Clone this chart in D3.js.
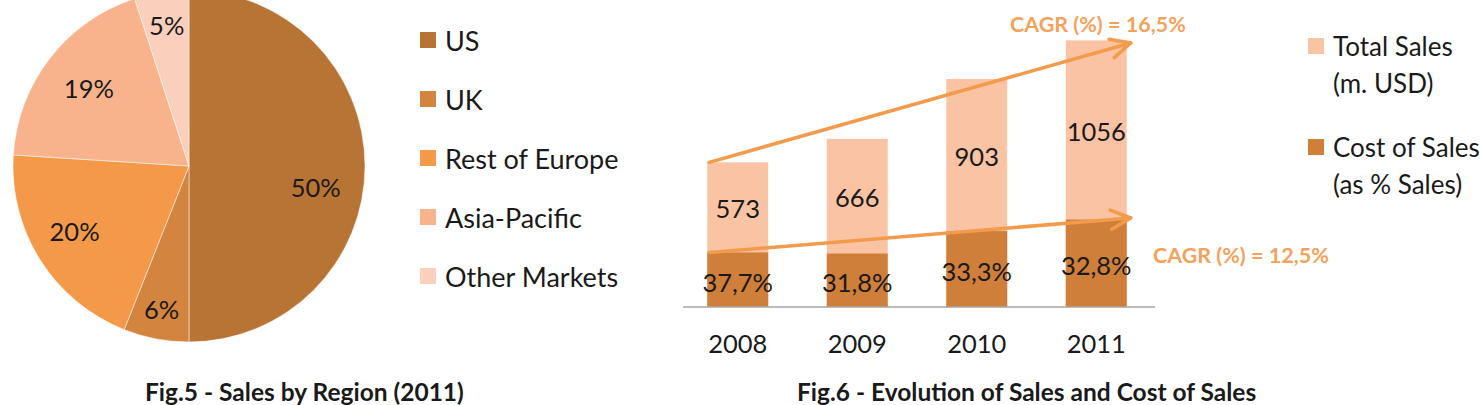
<!DOCTYPE html>
<html>
<head>
<meta charset="utf-8">
<script src="https://cdn.jsdelivr.net/npm/d3@7"></script>
<style>
  body { margin: 0; background: #fff; }
  svg { display: block; font-family: Lato, "Open Sans", sans-serif; }
  text { fill: #1a1a1a; }
</style>
</head>
<body>
<svg id="chart" width="1480" height="405"></svg>
<script>
// pie data
const regions = ["US", "UK", "Rest of Europe", "Asia-Pacific", "Other Markets"];
const regionShare = [50, 6, 20, 19, 5];
const regionColors = ["#b87435", "#d3843f", "#f4994a", "#f8b38c", "#fad0bd"];

// bar data
const years = ["2008", "2009", "2010", "2011"];
const totalSales = [573, 666, 903, 1056];
const costPct = [37.7, 31.8, 33.3, 32.8];
const salesLabels = ["Total Sales", "(m. USD)"];
const costLabels = ["Cost of Sales", "(as % Sales)"];
const cagrSales = "CAGR (%) = 16,5%";
const cagrCost = "CAGR (%) = 12,5%";

const svg = d3.select("#chart");
const fs = 25.5;   // numbers
const fsLeg = 27;  // legend words

//---------------- pie ----------------
const pie = d3.pie().sort(null).value(d => d);
const arcs = pie(regionShare);
const r = 176;
const arc = d3.arc().innerRadius(0).outerRadius(r);
const pieG = svg.append("g").attr("transform", "translate(189,166)");

pieG.selectAll("path")
  .data(arcs)
  .enter()
  .append("path")
  .attr("d", arc)
  .attr("fill", (d, i) => regionColors[i])
  .attr("stroke", "#fff")
  .attr("stroke-width", 0.5);

// label radius factor and small vertical nudge per slice
const labelR = [0.72, 0.83, 0.77, 0.72, 0.81];
const labelDy = [21, 0, -8, 0, 0];
pieG.selectAll("text.pl")
  .data(arcs)
  .enter()
  .append("text")
  .attr("class", "pl")
  .attr("transform", (d, i) => {
    const a = (d.startAngle + d.endAngle) / 2;
    const rr = r * labelR[i];
    return "translate(" + (Math.sin(a) * rr) + "," + (-Math.cos(a) * rr + labelDy[i]) + ")";
  })
  .attr("text-anchor", "middle")
  .attr("dominant-baseline", "central")
  .style("font-size", fs + "px")
  .text(d => d.data + "%");

// legend
const leg = svg.append("g").attr("transform", "translate(420,40)");
regions.forEach((name, i) => {
  leg.append("rect")
    .attr("x", 0).attr("y", i * 59 - 8)
    .attr("width", 16).attr("height", 16)
    .attr("fill", regionColors[i]);
  leg.append("text")
    .attr("x", 25).attr("y", i * 59)
    .attr("dominant-baseline", "central")
    .style("font-size", fsLeg + "px")
    .text(name);
});

svg.append("text")
  .attr("x", 145).attr("y", 401)
  .style("font-size", "24.5px").style("font-weight", "bold")
  .text("Fig.5 - Sales by Region (2011)");

//---------------- bars ----------------
const x = d3.scaleBand().domain(years).range([678, 1156]).paddingInner(0.49).paddingOuter(0.245);
const y = d3.scaleLinear().domain([0, 1200]).range([307, 4]);

const rows = years.map((yr, i) => ({
  year: yr,
  total: totalSales[i],
  cost: totalSales[i] * costPct[i] / 100,
  pct: costPct[i]
}));

const bars = svg.append("g");
bars.selectAll("rect.tot")
  .data(rows).enter().append("rect")
  .attr("class", "tot")
  .attr("x", d => x(d.year)).attr("width", x.bandwidth())
  .attr("y", d => y(d.total)).attr("height", d => y(0) - y(d.total))
  .attr("fill", "#f9c3a4");
bars.selectAll("rect.cost")
  .data(rows).enter().append("rect")
  .attr("class", "cost")
  .attr("x", d => x(d.year)).attr("width", x.bandwidth())
  .attr("y", d => y(d.cost)).attr("height", d => y(0) - y(d.cost))
  .attr("fill", "#cf7f3a");

bars.selectAll("text.tl")
  .data(rows).enter().append("text")
  .attr("x", d => x(d.year) + x.bandwidth() / 2)
  .attr("y", d => (y(d.total) + y(d.cost)) / 2 + 1)
  .attr("text-anchor", "middle").attr("dominant-baseline", "central")
  .style("font-size", fs + "px")
  .text(d => d.total);
bars.selectAll("text.cl")
  .data(rows).enter().append("text")
  .attr("x", d => x(d.year) + x.bandwidth() / 2)
  .attr("y", d => (y(d.cost) + y(0)) / 2 + 2)
  .attr("text-anchor", "middle").attr("dominant-baseline", "central")
  .style("font-size", fs + "px")
  .text(d => d.pct.toFixed(1).replace(".", ",") + "%");

const xAxis = d3.axisBottom(x).tickSize(0).tickPadding(28);
const ax = svg.append("g").attr("transform", "translate(0,307)").call(xAxis);
ax.select(".domain").attr("d", "M683,0H1155").attr("stroke", "#a6a6a6").attr("stroke-width", 1.5);
ax.selectAll("text").style("font-size", fs + "px").style("font-family", "Lato, 'Open Sans', sans-serif").attr("fill", "#1a1a1a");

// CAGR arrows
const arrowCol = "#f39b4c";
function arrow(x1, y1, x2, y2) {
  svg.append("line")
    .attr("x1", x1).attr("y1", y1).attr("x2", x2).attr("y2", y2)
    .attr("stroke", arrowCol).attr("stroke-width", 3.5).attr("stroke-linecap", "round");
  const a = Math.atan2(y2 - y1, x2 - x1);
  const L = 22, w = 0.45;
  const p1 = [x2 - L * Math.cos(a - w), y2 - L * Math.sin(a - w)];
  const p2 = [x2 - L * Math.cos(a + w), y2 - L * Math.sin(a + w)];
  svg.append("path")
    .attr("d", "M" + p1 + "L" + x2 + "," + y2 + "L" + p2)
    .attr("fill", "none").attr("stroke", arrowCol).attr("stroke-width", 3.5)
    .attr("stroke-linecap", "round").attr("stroke-linejoin", "round");
}
const x0 = x(years[0]), x3 = x(years[3]) + x.bandwidth();
arrow(x0 + 2, y(totalSales[0]), x3 + 4, 43);
arrow(x0 + 2, y(rows[0].cost), x3 + 4, 218);

svg.append("text").attr("x", 1010).attr("y", 24)
  .attr("dominant-baseline", "central")
  .style("font-size", "21.5px").style("font-weight", "bold").style("fill", "#f4a25b")
  .text(cagrSales);
svg.append("text").attr("x", 1153).attr("y", 255)
  .attr("dominant-baseline", "central")
  .style("font-size", "21.5px").style("font-weight", "bold").style("fill", "#f4a25b")
  .text(cagrCost);

// bar legend
const leg2 = svg.append("g").attr("transform", "translate(1308,0)");
[[salesLabels, "#f9c3a4", 46], [costLabels, "#cf7f3a", 147]].forEach(([lines, col, cy]) => {
  leg2.append("rect").attr("x", 0).attr("y", cy - 8).attr("width", 16).attr("height", 16).attr("fill", col);
  lines.forEach((t, j) => {
    leg2.append("text").attr("x", 25).attr("y", cy + j * 37)
      .attr("dominant-baseline", "central")
      .style("font-size", "26px")
      .text(t);
  });
});

svg.append("text")
  .attr("x", 797).attr("y", 401)
  .style("font-size", "24.5px").style("font-weight", "bold")
  .text("Fig.6 - Evolution of Sales and Cost of Sales");
</script>
</body>
</html>
